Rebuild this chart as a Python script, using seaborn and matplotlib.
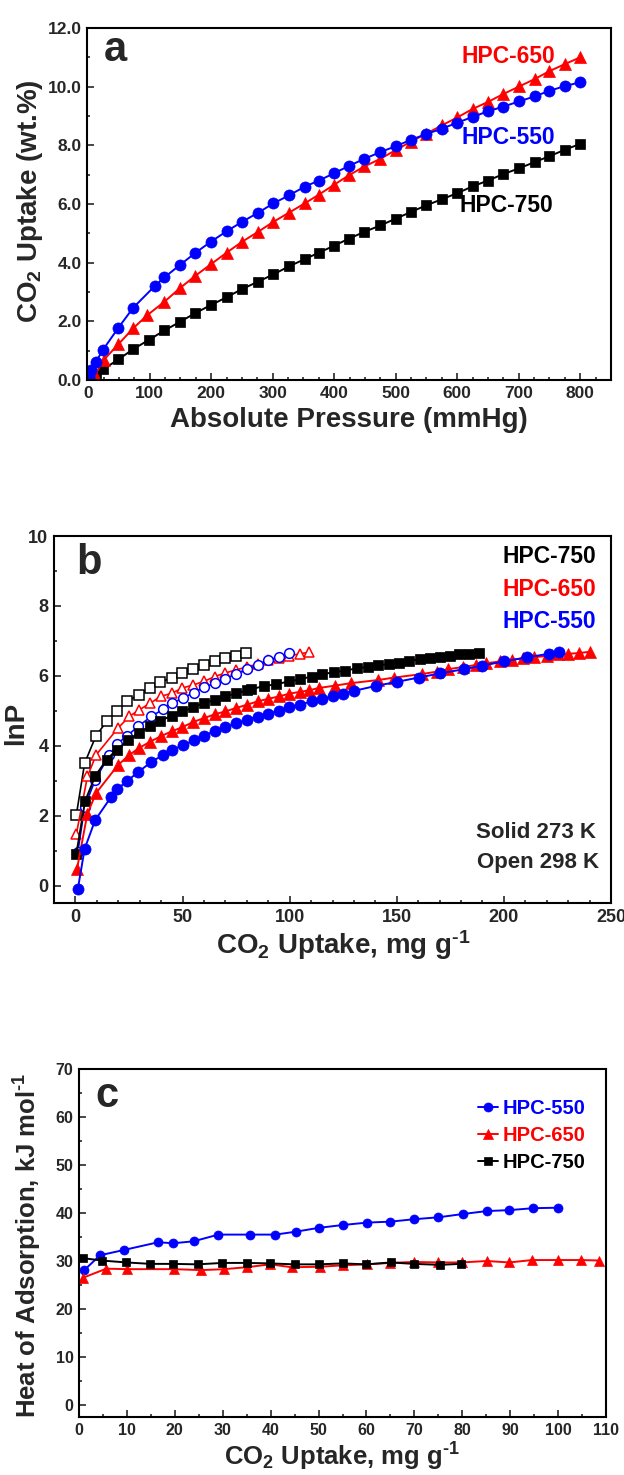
import numpy as np
import matplotlib
matplotlib.use("Agg")
import matplotlib.pyplot as plt
import seaborn as sns
from matplotlib.ticker import MultipleLocator, FormatStrFormatter

# ======================================
# Data - panel a (CO2 uptake isotherms, wt.%)
# ======================================

a550_p = [0.5, 2, 5, 12, 24, 49, 73, 108, 124, 149, 174, 199, 225, 250, 276, 301,
          326, 352, 375, 400, 424, 449, 475, 500, 525, 549, 575, 600, 625, 650,
          675, 701, 726, 750, 775, 800]
a550_q = [0.02, 0.15, 0.33, 0.6, 1.03, 1.78, 2.46, 3.2, 3.5, 3.92, 4.33, 4.71, 5.07,
          5.39, 5.7, 6.02, 6.29, 6.59, 6.8, 7.05, 7.3, 7.54, 7.77, 7.97, 8.19, 8.38,
          8.57, 8.77, 8.97, 9.16, 9.32, 9.5, 9.67, 9.86, 10.02, 10.15]

a650_p = [0.5, 3, 7, 11, 25, 49, 73, 96, 124, 149, 174, 199, 225, 250, 276, 301,
          326, 352, 375, 400, 424, 449, 475, 500, 525, 549, 575, 600, 625, 650,
          675, 701, 726, 750, 775, 800]
a650_q = [0.0, 0.04, 0.1, 0.17, 0.68, 1.22, 1.76, 2.21, 2.67, 3.13, 3.55, 3.94, 4.34,
          4.71, 5.05, 5.39, 5.7, 6.02, 6.32, 6.66, 6.98, 7.28, 7.54, 7.84, 8.13,
          8.39, 8.68, 8.95, 9.24, 9.48, 9.75, 10.01, 10.26, 10.53, 10.77, 11.0]

a750_p = [1, 5, 12, 24, 49, 73, 98, 124, 149, 174, 199, 225, 250, 276, 301, 326,
          352, 375, 400, 424, 449, 475, 500, 525, 549, 575, 600, 625, 650, 675,
          701, 726, 750, 775, 800]
a750_q = [0.0, 0.05, 0.14, 0.36, 0.70, 1.05, 1.36, 1.69, 1.98, 2.28, 2.55, 2.82,
          3.10, 3.35, 3.60, 3.87, 4.12, 4.34, 4.58, 4.82, 5.05, 5.27, 5.50, 5.73,
          5.95, 6.16, 6.37, 6.60, 6.80, 7.02, 7.22, 7.43, 7.63, 7.85, 8.05]

# ======================================
# Data - panel b (lnP vs uptake, solid 273 K / open 298 K)
# ======================================

b550s_x = [1.1, 4.3, 9.2, 16.5, 19.6, 23.9, 29.2, 35.5, 41.1, 45.3, 50.1, 55.2, 60,
           65.1, 69.9, 75, 80, 85.1, 89.9, 95, 99.9, 104.7, 110.3, 115, 120, 124.9,
           130.1, 140.2, 150.3, 160.2, 170.3, 181.4, 189.8, 200, 211, 221, 225.7]
b550s_y = [-0.11, 1.05, 1.87, 2.52, 2.76, 2.98, 3.24, 3.54, 3.74, 3.89, 4.01, 4.15,
           4.29, 4.42, 4.53, 4.64, 4.74, 4.83, 4.91, 5.0, 5.10, 5.17, 5.27, 5.33,
           5.41, 5.49, 5.57, 5.71, 5.83, 5.95, 6.07, 6.19, 6.29, 6.41, 6.53, 6.63,
           6.68]

b650s_x = [0.7, 5.6, 9.7, 19.8, 25.2, 29.9, 35, 39.8, 44.9, 49.9, 55, 60, 65.1, 69.9,
           75, 80, 85.1, 89.9, 95, 99.9, 104.7, 108.8, 113.5, 121.2, 128.6, 141.4,
           148.8, 161.7, 168.8, 173.9, 180.8, 187, 191.7, 198.2, 203.8, 208.9,
           214.1, 219.9, 225.1, 230, 235, 240.3]
b650s_y = [0.46, 2.06, 2.65, 3.44, 3.74, 3.94, 4.12, 4.27, 4.41, 4.53, 4.68, 4.79,
           4.90, 4.98, 5.08, 5.17, 5.27, 5.34, 5.41, 5.49, 5.54, 5.58, 5.65, 5.72,
           5.79, 5.88, 5.95, 6.05, 6.12, 6.19, 6.25, 6.31, 6.36, 6.41, 6.46, 6.50,
           6.53, 6.57, 6.61, 6.63, 6.65, 6.69]

b750s_x = [0.4, 4.5, 9.3, 14.6, 19.3, 24.7, 29.5, 34.6, 39.6, 44.9, 49.9, 55, 60,
           65.1, 69.9, 75, 80, 81.9, 87.9, 93.5, 99.9, 104.7, 110.3, 115.2, 120.8,
           125.7, 131.3, 136.5, 141.4, 146.4, 151.1, 155.8, 160.8, 165.5, 170.2,
           174.8, 179.1, 183.6, 188.3]
b750s_y = [0.89, 2.41, 3.14, 3.6, 3.89, 4.15, 4.36, 4.55, 4.71, 4.86, 4.98, 5.10,
           5.22, 5.31, 5.41, 5.50, 5.58, 5.62, 5.70, 5.76, 5.84, 5.90, 5.98, 6.05,
           6.10, 6.15, 6.21, 6.26, 6.30, 6.34, 6.38, 6.42, 6.48, 6.51, 6.54, 6.58,
           6.61, 6.63, 6.66]

b750o_x = [0.4, 4.3, 9.5, 14.6, 19.3, 24.3, 29.5, 34.6, 39.6, 44.9, 49.9, 55, 60,
           65.1, 69.9, 75, 79.7]
b750o_y = [2.01, 3.50, 4.27, 4.70, 4.98, 5.27, 5.46, 5.65, 5.81, 5.95, 6.08, 6.19,
           6.30, 6.41, 6.50, 6.58, 6.65]

b650o_x = [0.4, 5.6, 9.7, 19.8, 25.2, 29.9, 35, 39.8, 44.9, 49.9, 55, 60, 65.1, 69.9,
           75, 80, 85.1, 89.9, 95, 99.9, 104.7, 108.8]
b650o_y = [1.46, 3.12, 3.74, 4.50, 4.84, 5.03, 5.22, 5.41, 5.50, 5.65, 5.74, 5.84,
           5.98, 6.08, 6.17, 6.25, 6.34, 6.44, 6.52, 6.57, 6.63, 6.67]

b550o_x = [1.1, 4.3, 9.3, 15.9, 19.6, 23.9, 29.2, 35.5, 41.1, 45.3, 50.1, 55.2, 60,
           65.1, 69.9, 75, 80, 85.1, 89.9, 95, 99.9]
b550o_y = [0.95, 2.25, 3.03, 3.74, 4.06, 4.27, 4.55, 4.84, 5.05, 5.22, 5.36, 5.52,
           5.67, 5.79, 5.91, 6.06, 6.19, 6.31, 6.44, 6.55, 6.65]

# ======================================
# Data - panel c (isosteric heat of adsorption)
# ======================================

c550_x = [1.1, 4.4, 9.4, 16.5, 19.7, 23.9, 29.1, 35.6, 41, 45.2, 50, 55.1, 60.1, 65,
          69.9, 75, 80.2, 85.1, 89.8, 94.8, 99.9]
c550_y = [28.1, 31.2, 32.3, 33.9, 33.7, 34.1, 35.5, 35.5, 35.5, 36.1, 36.9, 37.5,
          38.0, 38.2, 38.7, 39.1, 39.8, 40.4, 40.6, 41.0, 41.1]

c650_x = [0.8, 5.7, 10, 19.9, 25.5, 30.3, 35, 39.9, 44.4, 50.2, 55.1, 60.1, 65, 69.9,
          75, 79.9, 85.1, 89.8, 94.6, 99.9, 104.8, 108.6]
c650_y = [26.5, 28.4, 28.3, 28.3, 28.1, 28.3, 28.7, 29.3, 28.7, 28.8, 29.1, 29.3,
          29.6, 29.8, 29.7, 29.7, 30.0, 29.7, 30.2, 30.2, 30.2, 30.1]

c750_x = [0.8, 4.7, 9.9, 14.9, 19.7, 24.8, 29.9, 35, 39.9, 45, 50, 55, 59.9, 65.1,
          69.9, 75.3, 79.7]
c750_y = [30.6, 30.1, 29.7, 29.4, 29.4, 29.3, 29.6, 29.6, 29.5, 29.3, 29.3, 29.5,
          29.3, 29.7, 29.4, 29.2, 29.4]

# ======================================
# Style
# ======================================

BLUE = "#0000FF"
RED = "#FF0000"
BLACK = "#000000"

sns.set_style("ticks")
plt.rcParams["font.family"] = ["Liberation Sans", "DejaVu Sans"]
plt.rcParams["font.weight"] = "bold"
plt.rcParams["axes.labelweight"] = "bold"
plt.rcParams["mathtext.fontset"] = "custom"
plt.rcParams["mathtext.rm"] = "Liberation Sans:bold"
plt.rcParams["mathtext.bf"] = "Liberation Sans:bold"
plt.rcParams["mathtext.it"] = "Liberation Sans:bold:italic"
plt.rcParams["mathtext.default"] = "rm"
plt.rcParams["axes.linewidth"] = 1.5

W, H = 624, 1475
fig = plt.figure(figsize=(W / 100, H / 100), dpi=100)


def add_axes(left, right, top, bottom):
    return fig.add_axes([left / W, 1 - bottom / H, (right - left) / W, (bottom - top) / H])


def series(ax, x, y, color, marker, ms, open_marker=False, lw=1.4, label=None):
    sns.lineplot(
        x=x, y=y, ax=ax, color=color, marker=marker, markersize=ms,
        markeredgecolor=color,
        markerfacecolor="white" if open_marker else color,
        markeredgewidth=1.1 if open_marker else 0.5,
        linewidth=lw, sort=False, estimator=None, label=label,
    )


def style_axes(ax, size):
    ax.tick_params(which="both", direction="in", top=False, right=False,
                   width=1.2, labelsize=size, pad=4)
    ax.tick_params(which="major", length=5)
    ax.tick_params(which="minor", length=2.5)
    for sp in ax.spines.values():
        sp.set_linewidth(1.5)
        sp.set_color("black")


LETTER = dict(fontsize=30, ha="center", va="center")
TAG = 16.5

# ======================================
# Panel a
# ======================================

ax1 = add_axes(87, 611, 28, 380)
series(ax1, a750_p, a750_q, BLACK, "s", 7)
series(ax1, a650_p, a650_q, RED, "^", 8.5)
series(ax1, a550_p, a550_q, BLUE, "o", 8)

ax1.set_xlim(-2, 850)
ax1.set_ylim(0, 12)
ax1.xaxis.set_major_locator(MultipleLocator(100))
ax1.xaxis.set_minor_locator(MultipleLocator(25))
ax1.yaxis.set_major_locator(MultipleLocator(2))
ax1.yaxis.set_minor_locator(MultipleLocator(1))
ax1.yaxis.set_major_formatter(FormatStrFormatter("%.1f"))
style_axes(ax1, 12.5)

ax1.set_xlabel("Absolute Pressure (mmHg)", fontsize=20, va="center")
ax1.set_ylabel(r"CO$_2$ Uptake (wt.%)", fontsize=20, va="center")
ax1.xaxis.set_label_coords(0.5, -0.114)
ax1.yaxis.set_label_coords(-0.109, 0.508)

ax1.text(0.055, 0.937, "a", transform=ax1.transAxes, **LETTER)
ax1.text(0.714, 0.918, "HPC-650", transform=ax1.transAxes, fontsize=TAG,
         color=RED, va="center")
ax1.text(0.714, 0.69, "HPC-550", transform=ax1.transAxes, fontsize=TAG,
         color=BLUE, va="center")
ax1.text(0.71, 0.497, "HPC-750", transform=ax1.transAxes, fontsize=TAG,
         color=BLACK, va="center")

# ======================================
# Panel b
# ======================================

ax2 = add_axes(54, 611, 536, 903)
series(ax2, b750o_x, b750o_y, BLACK, "s", 7, open_marker=True, lw=1.2)
series(ax2, b650o_x, b650o_y, RED, "^", 7.5, open_marker=True, lw=1.2)
series(ax2, b550o_x, b550o_y, BLUE, "o", 7, open_marker=True, lw=1.2)
series(ax2, b750s_x, b750s_y, BLACK, "s", 7)
series(ax2, b650s_x, b650s_y, RED, "^", 8)
series(ax2, b550s_x, b550s_y, BLUE, "o", 8)

ax2.set_xlim(-10, 250)
ax2.set_ylim(-0.5, 10)
ax2.xaxis.set_major_locator(MultipleLocator(50))
ax2.xaxis.set_minor_locator(MultipleLocator(10))
ax2.yaxis.set_major_locator(MultipleLocator(2))
ax2.yaxis.set_minor_locator(MultipleLocator(1))
style_axes(ax2, 13)

ax2.set_xlabel(r"CO$_2$ Uptake, mg g$^{\text{-1}}$", fontsize=20, va="center")
ax2.set_ylabel("lnP", fontsize=20, va="center")
ax2.xaxis.set_label_coords(0.52, -0.114)
ax2.yaxis.set_label_coords(-0.068, 0.49)

ax2.text(0.063, 0.926, "b", transform=ax2.transAxes, **LETTER)
ax2.text(0.973, 0.943, "HPC-750", transform=ax2.transAxes, fontsize=TAG,
         color=BLACK, ha="right", va="center")
ax2.text(0.973, 0.853, "HPC-650", transform=ax2.transAxes, fontsize=TAG,
         color=RED, ha="right", va="center")
ax2.text(0.973, 0.766, "HPC-550", transform=ax2.transAxes, fontsize=TAG,
         color=BLUE, ha="right", va="center")
ax2.text(0.973, 0.191, "Solid 273 K", transform=ax2.transAxes, fontsize=16,
         ha="right", va="center")
ax2.text(0.978, 0.109, "Open 298 K", transform=ax2.transAxes, fontsize=16,
         ha="right", va="center")

# ======================================
# Panel c
# ======================================

ax3 = add_axes(79, 606, 1069, 1417)
series(ax3, c550_x, c550_y, BLUE, "o", 6.5, label="HPC-550")
series(ax3, c650_x, c650_y, RED, "^", 7, label="HPC-650")
series(ax3, c750_x, c750_y, BLACK, "s", 6, label="HPC-750")

ax3.set_xlim(0, 110)
ax3.set_ylim(-2.5, 70)
ax3.xaxis.set_major_locator(MultipleLocator(10))
ax3.xaxis.set_minor_locator(MultipleLocator(5))
ax3.yaxis.set_major_locator(MultipleLocator(10))
ax3.yaxis.set_minor_locator(MultipleLocator(5))
style_axes(ax3, 11.5)

ax3.set_xlabel(r"CO$_2$ Uptake, mg g$^{\text{-1}}$", fontsize=18.5, va="center")
ax3.set_ylabel(r"Heat of Adsorption, kJ mol$^{\text{-1}}$", fontsize=18.5,
               va="center")
ax3.xaxis.set_label_coords(0.5, -0.115)
ax3.yaxis.set_label_coords(-0.097, 0.494)

ax3.text(0.053, 0.922, "c", transform=ax3.transAxes, **LETTER)

leg = ax3.legend(loc="upper right", bbox_to_anchor=(0.962, 0.915), frameon=False,
                 fontsize=14.5, handlelength=1.0, handletextpad=0.25,
                 labelspacing=0.4, borderpad=0.0, borderaxespad=0.0,
                 labelcolor="linecolor")

fig.savefig("out.png", dpi=100)
plt.close(fig)
